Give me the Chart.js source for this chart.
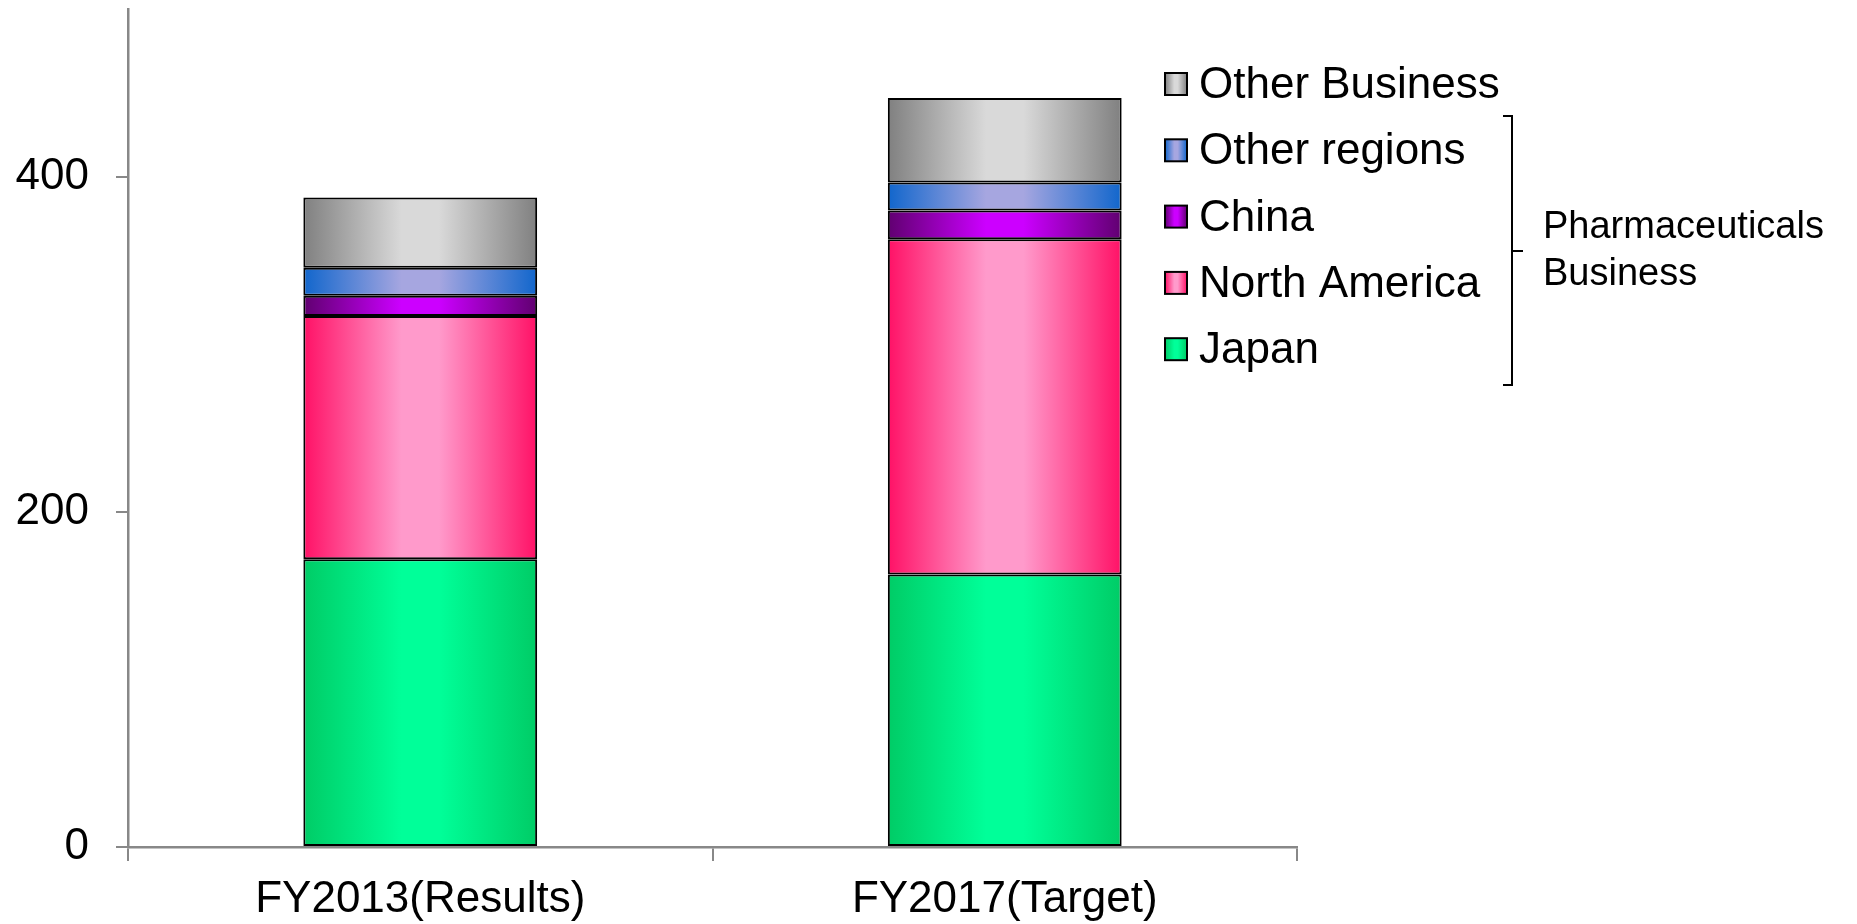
<!DOCTYPE html>
<html>
<head>
<meta charset="utf-8">
<script src="https://cdn.jsdelivr.net/npm/chart.js@4"></script>
<style>
  html, body { margin: 0; padding: 0; background: #fff; }
  #wrap { width: 1857px; height: 924px; position: relative; }
</style>
</head>
<body>
<div id="wrap"><canvas id="myChart"></canvas></div>
<script>
// data (billion yen)
var categories = ["FY2013(Results)", "FY2017(Target)"];
var seriesNames = ["Japan", "North America", "China", "Other regions", "Other Business"];
var japan = [171.7, 162.6];
var northAmerica = [145.2, 200.0];
var china = [12.0, 17.1];
var otherRegions = [16.7, 16.8];
var otherBusiness = [42.0, 50.4];
var yTicks = [0, 200, 400];

// edge / middle colours of the horizontal gradient
var edgeColors = ['#00CC66', '#FF1166', '#600070', '#1166CC', '#808080'];
var midColors = ['#00FF99', '#FF9ACB', '#CC00FF', '#A6A6E0', '#D9D9D9'];

var FONT = '"Liberation Sans", Arial, sans-serif';

function makeGradient(ctx, x0, x1, edge, mid) {
  var g = ctx.createLinearGradient(x0, 0, x1, 0);
  g.addColorStop(0, edge);
  g.addColorStop(0.42, mid);
  g.addColorStop(0.58, mid);
  g.addColorStop(1, edge);
  return g;
}

function barFill(i) {
  return function (context) {
    var chart = context.chart;
    var xs = chart.scales.x;
    if (!chart.chartArea || !xs || context.dataIndex === undefined) return midColors[i];
    var cx = xs.getPixelForValue(context.dataIndex);
    var w = chart.chartArea.width / chart.data.labels.length * 0.4;
    return makeGradient(chart.ctx, cx - w / 2, cx + w / 2, edgeColors[i], midColors[i]);
  };
}

var values = [japan, northAmerica, china, otherRegions, otherBusiness];
var datasets = values.map(function (v, i) {
  return {
    label: seriesNames[i],
    data: v,
    backgroundColor: barFill(i),
    borderColor: '#000',
    borderWidth: 2,
    borderSkipped: false,
    categoryPercentage: 0.8,
    barPercentage: 0.5
  };
});

// legend (reversed) + bracket note, drawn on the right inside the plot
var sideLegend = {
  id: 'sideLegend',
  afterDraw: function (chart) {
    var ctx = chart.ctx;
    ctx.save();
    var n = chart.data.datasets.length;
    for (var k = 0; k < n; k++) {
      var i = n - 1 - k;
      var cy = 84 + k * 66.3;
      var bx = 1165, bs = 22;
      ctx.fillStyle = makeGradient(ctx, bx, bx + bs, edgeColors[i], midColors[i]);
      ctx.fillRect(bx, cy - bs / 2, bs, bs);
      ctx.strokeStyle = '#000';
      ctx.lineWidth = 2;
      ctx.strokeRect(bx, cy - bs / 2, bs, bs);
      ctx.fillStyle = '#000';
      ctx.font = '44px ' + FONT;
      ctx.textAlign = 'left';
      ctx.textBaseline = 'alphabetic';
      ctx.fillText(chart.data.datasets[i].label, 1199, cy + 14);
    }
    // bracket
    ctx.strokeStyle = '#000';
    ctx.lineWidth = 2;
    ctx.beginPath();
    ctx.moveTo(1503, 116);
    ctx.lineTo(1512, 116);
    ctx.lineTo(1512, 385);
    ctx.lineTo(1503, 385);
    ctx.moveTo(1512, 251);
    ctx.lineTo(1523, 251);
    ctx.stroke();
    ctx.fillStyle = '#000';
    ctx.font = '38px ' + FONT;
    ctx.fillText('Pharmaceuticals', 1543, 238);
    ctx.fillText('Business', 1543, 285);
    ctx.restore();
  }
};

var ctx = document.getElementById("myChart").getContext('2d');

var myChart = new Chart(ctx, {
  type: 'bar',
  data: {
    labels: categories,
    datasets: datasets
  },
  options: {
    responsive: true,
    maintainAspectRatio: false,
    animation: false,
    layout: { padding: { top: 9, right: 560, bottom: 0, left: 0 } },
    plugins: {
      legend: { display: false },
      tooltip: { enabled: false }
    },
    scales: {
      x: {
        stacked: true,
        offset: true,
        grid: {
          offset: true,
          drawOnChartArea: false,
          drawTicks: true,
          tickLength: 14,
          color: '#888',
          lineWidth: 2
        },
        border: { display: true, color: '#888', width: 2.5 },
        ticks: {
          color: '#000',
          padding: 12,
          font: { family: FONT, size: 44 }
        },
        afterFit: function (s) { s.height = 77; }
      },
      y: {
        stacked: true,
        min: 0,
        max: 500,
        grid: {
          drawOnChartArea: false,
          drawTicks: true,
          tickLength: 12,
          color: '#888',
          lineWidth: 2
        },
        border: { display: true, color: '#888', width: 2.5 },
        ticks: {
          stepSize: 200,
          includeBounds: false,
          color: '#000',
          padding: 27,
          font: { family: FONT, size: 44 },
          callback: function (v) { return yTicks.indexOf(v) >= 0 ? String(v) : ''; }
        },
        afterFit: function (s) {
          s.width = 128;
          s.paddingTop = 0;
          s.paddingBottom = 0;
        }
      }
    }
  },
  plugins: [sideLegend]
});
</script>
</body>
</html>
